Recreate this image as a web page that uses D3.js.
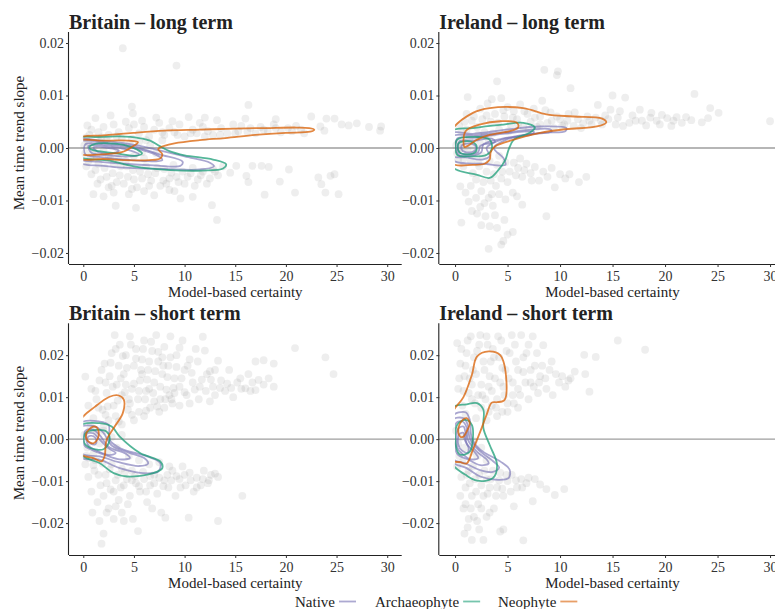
<!DOCTYPE html>
<html><head><meta charset="utf-8">
<script src="https://cdn.jsdelivr.net/npm/d3@7"></script>
<style>
html,body{margin:0;padding:0;background:#fff;}
svg{display:block;}
text{font-family:"Liberation Serif","DejaVu Serif",serif;}
</style></head>
<body>
<svg id="chart" width="775" height="609"></svg>
<script>
// ---------- data ----------
const groups = ["Native", "Archaeophyte", "Neophyte"];
const groupColors = ["#7570b3", "#1b9e77", "#d95f02"];
const xTicks = [0, 5, 10, 15, 20, 25, 30];
const yTicks = [-0.02, -0.01, 0.00, 0.01, 0.02];
const panelTitles = ["Britain – long term", "Ireland – long term", "Britain – short term", "Ireland – short term"];

// grey points [certainty, slope]
const britainLongPoints = [
[0.3,0.002],[0.8,0.0035],[1.2,0.0057],[1.5,0.003],[2.0,0.004],[2.5,0.0025],[3.0,0.0045],[3.5,0.003],[4.2,0.005],[4.5,0.0038],[5.0,0.0045],[5.5,0.0028],[6.0,0.004],[6.5,0.0022],[7.0,0.0035],[7.5,0.0048],[8.0,0.0025],[8.5,0.0038],[9.0,0.003],[9.5,0.0045],[10.0,0.0022],[10.4,0.0059],[10.8,0.0035],[11.2,0.0028],[11.8,0.004],[12.3,0.0032],[12.8,0.0025],[13.2,0.0053],[13.6,0.0038],[14.2,0.0028],[14.8,0.0045],[15.3,0.0032],[16.0,0.0056],[16.5,0.0038],[17.0,0.0028],[17.5,0.004],[18.2,0.0033],[18.8,0.0045],[19.5,0.003],[20.2,0.0038],[21.0,0.0042],[21.8,0.0028],[22.5,0.006],[23.4,0.0041],[23.8,0.0033],[24.0,0.0056],[24.8,0.0056],[25.5,0.0045],[26.2,0.0043],[27.0,0.0047],[28.2,0.004],[29.3,0.0033],[29.4,0.0041],
[0.1,0.0005],[0.2,-0.001],[0.5,0.001],[0.7,-0.002],[1.0,0.0],[1.3,-0.0015],[1.6,0.0012],[2.0,-0.0005],[2.3,0.0015],[2.7,-0.002],[3.1,0.0005],[3.4,-0.001],[3.8,0.0018],[4.2,-0.0025],[4.6,0.0008],[5.0,-0.0015],[5.5,0.0012],[6.0,-0.002],[6.6,0.0005],[7.2,-0.001],[7.8,0.0015],
[0.3,-0.0035],[0.8,-0.005],[1.2,-0.0042],[1.7,-0.006],[2.1,-0.0038],[2.5,-0.0075],[2.9,-0.0048],[3.3,-0.0065],[3.7,-0.0035],[4.0,-0.0068],[4.4,-0.0055],[4.9,-0.0042],[5.3,-0.0075],[5.8,-0.0058],[6.2,-0.0035],[6.7,-0.0062],[7.1,-0.0048],[7.6,-0.0072],[8.0,-0.004],[8.5,-0.0058],[8.9,-0.0032],[9.4,-0.0065],[9.8,-0.0045],[10.3,-0.0055],[10.8,-0.0038],[11.3,-0.006],[11.8,-0.0045],[12.2,-0.0068],[12.8,-0.004],[13.3,-0.0052],[13.8,-0.0035],[1.0,-0.0088],[2.0,-0.0092],[3.0,-0.0085],[4.5,-0.0088],[6.0,-0.0082],[7.0,-0.009],[8.5,-0.008],[3.2,-0.011],[5.2,-0.0114],[9.6,-0.0096],[10.8,-0.0093],[12.7,-0.0109],[13.2,-0.0137],
[14.5,-0.0047],[15.1,-0.0034],[16.1,-0.0053],[16.3,-0.0065],[16.7,-0.0034],[17.6,-0.0034],[17.9,-0.0089],[18.3,-0.0036],[19.4,-0.0064],[20.3,-0.0041],[20.9,-0.0085],[23.2,-0.0056],[23.5,-0.0069],[23.9,-0.0085],[24.4,-0.0053],[24.8,-0.005],[25.2,-0.0088],
[3.9,0.019],[9.2,0.0157],[4.8,0.0079],[16.3,0.0082],[4.9,0.0066],
[0.5,-0.0025],[1.5,-0.003],[2.3,-0.0055],[3.0,-0.003],[3.6,-0.0052],[4.3,-0.0035],[5.0,-0.006],[5.6,-0.0045],[6.4,-0.005],[7.3,-0.0038],[7.9,-0.0062],[8.7,-0.0047],[9.2,-0.0055],[10.0,-0.0068],[10.6,-0.0048],[11.0,-0.0072],[11.6,-0.0052],[12.5,-0.0058],[13.0,-0.0045],[1.4,-0.0068],[2.8,-0.0072],[4.8,-0.0078],[6.5,-0.0072],[8.2,-0.0068],[9.0,-0.0082],[0.6,0.0025],[1.8,0.002],[3.3,0.0022],[4.8,0.0018],[6.2,0.0015],[7.8,0.003],[9.3,0.0025],[10.6,0.0028],[12.0,0.0022],[13.5,0.0025],[15.0,0.0028],[16.2,0.0031],[17.8,0.0035],[19.0,0.0038],[20.6,0.0032],[21.5,0.0035],[0.4,0.0043],[5.8,0.0052],[8.8,0.0051],[2.7,0.0062],[7.2,0.0058],[12.0,0.0058],[19.0,0.0055],[15.6,0.0042],[11.5,0.0048],[0.9,-0.0012],[2.5,-0.0015],[4.0,0.0003],[5.8,-0.0008],[3.5,-0.0022]
];
const irelandLongPoints = [
[0.3,0.001],[0.6,0.003],[0.9,0.005],[1.2,0.0097],[1.4,0.002],[1.8,0.006],[2.1,0.004],[2.4,0.0075],[2.8,0.003],[3.1,0.0085],[3.4,0.005],[3.5,0.0093],[3.8,0.0065],[4.0,0.0127],[4.2,0.0035],[4.4,0.0095],[4.7,0.006],[5.0,0.0078],[5.3,0.0045],[5.6,0.007],[5.9,0.0055],[6.2,0.0083],[6.5,0.004],[6.9,0.0065],[7.2,0.005],[7.5,0.0075],[7.8,0.004],[8.1,0.006],[8.3,0.009],[8.5,0.0149],[8.8,0.0048],[9.1,0.0068],[9.4,0.0038],[9.7,0.0139],[9.8,0.0146],[10.0,0.0055],[10.4,0.0045],[10.8,0.0065],[11.0,0.0114],[11.3,0.0042],[11.7,0.0055],[12.2,0.0047],[12.6,0.006],[13.0,0.0045],[13.6,0.0082],[13.9,0.0052],[14.3,0.0062],[14.8,0.0073],[15.0,0.010],[15.3,0.0045],[15.7,0.007],[16.2,0.0096],[16.6,0.0048],[17.2,0.0052],[17.6,0.0073],[18.2,0.0043],[18.7,0.0067],[19.2,0.0052],[19.7,0.0063],[20.2,0.0057],[20.6,0.0042],[21.1,0.0059],[22.0,0.0059],[22.5,0.0053],[22.8,0.0103],[23.5,0.0049],[24.1,0.0057],[24.3,0.0076],[25.1,0.0067],[30.0,0.0051],
[0.2,-0.001],[0.5,0.0],[0.8,-0.002],[1.2,-0.0005],[1.5,-0.0025],[1.9,-0.001],[2.3,-0.0035],[2.6,-0.0015],[3.0,-0.0045],[3.3,-0.0025],[3.7,-0.005],[4.0,-0.0032],[4.4,-0.0058],[4.8,-0.0027],[5.2,-0.0045],[5.6,-0.0028],[6.0,-0.0038],[6.4,-0.0055],[6.8,-0.003],[7.2,-0.0048],[7.6,-0.0036],[8.0,-0.0062],[8.4,-0.0045],[8.8,-0.0055],[9.5,-0.0075],[9.2,-0.0038],[10.0,-0.005],[10.5,-0.0058],[10.9,-0.005],[11.8,-0.0065],[12.5,-0.0055],
[0.5,-0.0073],[1.0,-0.0085],[1.5,-0.0072],[2.0,-0.0095],[2.5,-0.0082],[2.8,-0.0105],[3.2,-0.0095],[3.6,-0.011],[4.2,-0.0088],[4.8,-0.0098],[5.5,-0.0085],[5.9,-0.0092],[6.4,-0.0108],[0.6,-0.0142],[1.6,-0.012],[2.1,-0.0125],[2.5,-0.0147],[2.9,-0.013],[3.3,-0.0149],[4.0,-0.0152],[4.7,-0.0137],[5.0,-0.0165],[5.5,-0.016],[4.6,-0.0177],[4.4,-0.0184],[3.2,-0.0192],[8.7,-0.013],[3.8,-0.0128],
[0.1,0.0005],[0.4,-0.0004],[0.7,0.0012],[1.0,0.0003],[1.3,0.0015],[1.6,0.0004],[2.0,0.0018],[2.4,0.0008],[2.8,0.0022],[3.2,0.0012],
[0.4,0.0042],[1.1,0.0035],[1.6,0.0052],[2.2,0.0025],[2.6,0.0055],[3.0,0.0062],[3.6,0.0028],[4.1,0.0048],[4.6,0.0072],[5.1,0.0032],[5.5,0.0058],[6.0,0.0045],[6.6,0.007],[7.0,0.0035],[7.6,0.0058],[8.1,0.0045],[8.6,0.0072],[9.2,0.0052],[9.7,0.006],[10.2,0.0042],[10.7,0.0052],[11.4,0.0068],[12.0,0.0038],[12.8,0.0052],[13.4,0.0058],[14.0,0.0045],[14.6,0.0055],[15.5,0.0058],[16.0,0.0042],[16.9,0.0062],[17.8,0.0052],[18.6,0.0058],[19.5,0.0045],[20.8,0.0052],[21.6,0.0048],[0.8,-0.0035],[1.7,-0.0048],[2.0,-0.006],[2.7,-0.0065],[3.4,-0.0062],[3.9,-0.0072],[4.5,-0.0045],[5.0,-0.0065],[5.8,-0.0052],[6.6,-0.0042],[7.3,-0.0062],[1.3,-0.0102],[2.4,-0.0112],[3.5,-0.0088],[2.2,-0.0028],[4.2,-0.0015],[6.2,-0.002],[0.3,-0.0022],[1.1,0.0065]
];
const britainShortPoints = [
[0.2,0.0149],[0.5,0.008],[0.8,0.012],[1.0,0.005],[1.3,0.0095],[1.6,0.014],[1.9,0.007],[2.1,0.018],[2.3,0.011],[2.6,0.015],[2.8,0.0205],[3.0,0.008],[3.1,0.0248],[3.3,0.013],[3.5,0.0175],[3.6,0.0225],[3.8,0.0105],[4.0,0.0155],[4.2,0.02],[4.4,0.007],[4.6,0.0245],[4.8,0.012],[5.0,0.0175],[5.2,0.0215],[5.4,0.0095],[5.6,0.014],[5.8,0.019],[6.0,0.0235],[6.2,0.0115],[6.4,0.0165],[6.6,0.0075],[6.8,0.021],[7.0,0.0135],[7.2,0.0248],[7.4,0.0185],[7.6,0.0095],[7.8,0.0155],[8.0,0.022],[8.2,0.0118],[8.4,0.0175],[8.6,0.0245],[8.8,0.0085],[9.0,0.0145],[9.2,0.02],[9.5,0.0125],[9.8,0.0235],[10.0,0.0165],[10.2,0.0105],[10.5,0.019],[10.8,0.0135],[11.1,0.0215],[11.4,0.0095],[11.8,0.0244],[12.0,0.0211],[12.2,0.0155],[12.5,0.0162],[12.8,0.0125],[13.0,0.0105],[13.3,0.0187],[13.6,0.014],[14.0,0.0115],[14.4,0.0165],[14.8,0.01],[15.2,0.0135],[15.6,0.012],[16.0,0.0121],[16.3,0.0155],[16.7,0.0135],[17.0,0.0185],[17.0,0.0117],[17.3,0.0141],[17.8,0.0188],[17.8,0.013],[18.3,0.0145],[18.8,0.018],[18.8,0.0125],[20.9,0.0217],[23.9,0.0195],[24.7,0.0155],
[3.2,0.0055],[4.5,0.0095],[5.5,0.0065],[6.5,0.012],[7.5,0.0065],[8.5,0.0105],[9.5,0.008],[10.5,0.0085],[2.5,0.0045],[3.8,0.0035],[5.0,0.0045],[6.0,0.0055],[7.0,0.009],[8.0,0.0075],[9.0,0.011],[11.5,0.0125],[12.5,0.009],[2.0,0.003],[4.2,0.013],[5.8,0.0155],[7.8,0.0195],
[0.2,-0.006],[0.5,-0.009],[0.8,-0.0125],[1.1,-0.0075],[1.4,-0.015],[1.7,-0.011],[1.8,-0.0249],[2.0,-0.0135],[2.2,-0.0085],[2.5,-0.0165],[2.7,-0.012],[3.0,-0.019],[3.2,-0.0098],[3.5,-0.0145],[3.8,-0.0175],[4.0,-0.011],[4.3,-0.0095],[4.6,-0.0135],[4.9,-0.019],[5.2,-0.0105],[5.4,-0.0219],[5.6,-0.0125],[6.0,-0.0095],[6.3,-0.015],[6.6,-0.011],[7.0,-0.0085],[7.3,-0.013],[7.7,-0.0175],[8.1,-0.0187],[8.0,-0.0098],[8.4,-0.0115],[8.8,-0.0075],[9.1,-0.0135],[9.5,-0.0095],[9.8,-0.0065],[10.1,-0.011],[10.4,-0.0187],[10.5,-0.008],[10.9,-0.0125],[11.2,-0.0092],[11.6,-0.011],[11.9,-0.0075],[12.3,-0.0105],[12.6,-0.0085],[13.0,-0.0082],[13.3,-0.009],[13.3,-0.0195],[15.7,-0.0135],
[0.1,0.001],[0.4,-0.002],[0.7,0.003],[1.0,-0.0035],[1.3,0.0015],[1.6,-0.001],[2.0,0.002],[2.4,-0.003],[2.8,0.0005],[3.3,-0.002],[3.8,0.001],[4.5,-0.004],[5.5,-0.005],[6.5,-0.006],[7.5,-0.0055],[8.5,-0.0065],[0.3,-0.004],[1.2,-0.005],[2.8,-0.006],[3.8,-0.007],[4.8,-0.0075],
[1.2,0.0115],[1.5,0.0075],[1.8,0.0165],[2.2,0.0135],[2.4,0.0078],[2.7,0.0182],[2.9,0.0125],[3.2,0.0215],[3.4,0.0092],[3.7,0.0145],[3.9,0.0198],[4.1,0.0112],[4.3,0.017],[4.6,0.0085],[4.7,0.0225],[5.0,0.0132],[5.2,0.0192],[5.5,0.0115],[5.7,0.0165],[5.9,0.0215],[6.1,0.0095],[6.3,0.0142],[6.5,0.0185],[6.7,0.0232],[6.9,0.011],[7.1,0.0162],[7.4,0.0208],[7.6,0.0125],[7.9,0.0175],[8.1,0.0095],[8.3,0.0148],[8.6,0.0195],[8.9,0.0122],[9.2,0.0172],[9.5,0.0218],[9.7,0.0145],[10.0,0.0112],[10.3,0.0175],[10.7,0.0158],[11.0,0.0118],[11.3,0.0185],[11.7,0.0142],[12.1,0.0115],[12.6,0.0142],[13.0,0.0165],[13.5,0.0122],[14.2,0.0132],[14.6,0.0122],[15.5,0.0145],[16.5,0.0115],[3.5,0.0042],[4.8,0.0058],[6.2,0.0068],[7.3,0.0078],[8.7,0.0095],[2.2,0.0058],[1.0,0.0025],
[0.6,-0.0045],[1.0,-0.0062],[1.5,-0.0085],[1.9,-0.0058],[2.3,-0.0105],[2.6,-0.0072],[3.0,-0.0125],[3.4,-0.0085],[3.7,-0.0115],[4.1,-0.0078],[4.4,-0.0155],[4.8,-0.0098],[5.1,-0.0088],[5.5,-0.0112],[5.9,-0.0078],[6.2,-0.0125],[6.6,-0.0088],[7.0,-0.0105],[7.5,-0.0092],[7.9,-0.0112],[8.3,-0.0085],[8.7,-0.0098],[9.2,-0.0088],[9.6,-0.0115],[10.0,-0.0085],[10.6,-0.0098],[11.2,-0.0115],[11.8,-0.0095],[12.4,-0.0098],[0.9,-0.0175],[1.6,-0.0195],[2.3,-0.0175],[3.2,-0.016],[2.0,-0.0225],[6.8,-0.0165],[4.0,-0.0195]
];
const irelandShortPoints = [
[0.2,0.0229],[0.3,0.012],[0.5,0.018],[0.7,0.008],[0.9,0.015],[1.1,0.0205],[1.3,0.011],[1.5,0.0245],[1.7,0.0165],[1.9,0.0085],[2.1,0.021],[2.4,0.0248],[2.5,0.013],[2.7,0.0185],[2.9,0.0095],[3.1,0.0225],[3.3,0.015],[3.5,0.0115],[3.7,0.0195],[3.9,0.0075],[4.1,0.0245],[4.3,0.0135],[4.5,0.017],[4.7,0.0105],[4.9,0.021],[5.1,0.0145],[5.4,0.0248],[5.6,0.0085],[5.8,0.0185],[6.0,0.012],[6.3,0.0248],[6.5,0.016],[6.8,0.0205],[7.0,0.0095],[7.2,0.0135],[7.4,0.0245],[7.6,0.0175],[7.9,0.011],[8.1,0.015],[8.4,0.0224],[8.7,0.012],[9.0,0.0165],[9.3,0.0105],[9.9,0.0135],[10.2,0.015],[10.8,0.014],[11.4,0.0161],[12.3,0.0201],[12.4,0.0155],[12.8,0.0113],[13.4,0.0196],[15.5,0.0235],[18.1,0.0213],[1.0,0.006],[2.0,0.005],[3.0,0.0045],[4.0,0.0055],[5.0,0.0065],[6.0,0.0075],[3.2,0.0065],[2.2,0.0105],[1.6,0.013],
[0.1,0.002],[0.3,-0.001],[0.6,0.0005],[0.9,-0.002],[1.2,0.001],[1.5,-0.003],[1.8,-0.0005],[2.1,-0.004],[2.5,-0.002],[3.0,-0.005],[0.2,-0.0065],[0.6,-0.009],[1.0,-0.0115],[1.3,-0.0075],[1.6,-0.0135],[1.9,-0.0095],[2.2,-0.0155],[2.5,-0.011],[2.8,-0.0075],[3.1,-0.013],[3.4,-0.0095],[3.7,-0.0165],[4.0,-0.0115],[4.3,-0.008],[4.6,-0.0135],[5.0,-0.01],[5.4,-0.0085],[5.6,-0.016],[5.9,-0.0115],[6.3,-0.0095],[6.8,-0.0105],[7.4,-0.0148],[7.6,-0.0095],[8.1,-0.0108],[8.7,-0.0119],[9.5,-0.0133],[10.4,-0.0119],[1.3,-0.019],[1.8,-0.0185],[2.1,-0.0195],[1.6,-0.024],[2.7,-0.024],[4.3,-0.022],[4.6,-0.0215],[6.5,-0.0241],[0.8,-0.0165],[3.3,-0.0175],
[0.4,0.0145],[0.6,0.0215],[0.8,0.0115],[1.0,0.0175],[1.2,0.0235],[1.4,0.0145],[1.6,0.0095],[1.8,0.0195],[2.0,0.0155],[2.3,0.0225],[2.6,0.0105],[2.8,0.0165],[3.0,0.0245],[3.2,0.0125],[3.4,0.0185],[3.6,0.0215],[3.8,0.0145],[4.0,0.0095],[4.2,0.0195],[4.4,0.0235],[4.6,0.0125],[4.8,0.0165],[5.0,0.0085],[5.2,0.0205],[5.5,0.0135],[5.7,0.0225],[6.0,0.0165],[6.2,0.0105],[6.5,0.0195],[6.7,0.0135],[7.0,0.0225],[7.2,0.0165],[7.5,0.0125],[7.8,0.0205],[8.0,0.0135],[8.3,0.0175],[8.6,0.0145],[9.2,0.0185],[9.6,0.0155],[10.5,0.0125],[11.0,0.0145],[4.5,0.0065],[5.5,0.0105],[3.5,0.008],[2.5,0.0075],
[0.4,-0.004],[0.7,-0.0055],[1.1,-0.0085],[1.4,-0.0105],[1.7,-0.0065],[2.0,-0.0125],[2.3,-0.0085],[2.7,-0.0135],[3.0,-0.0095],[3.3,-0.0115],[3.6,-0.0075],[3.9,-0.0135],[4.2,-0.0098],[4.5,-0.0118],[4.9,-0.0085],[5.3,-0.0125],[5.8,-0.0098],[6.4,-0.0115],[7.0,-0.0092],[0.5,-0.0135],[1.0,-0.0155],[1.5,-0.0165],[2.5,-0.0165],[3.0,-0.0185],[1.2,-0.021],[2.3,-0.0215],[0.9,-0.0225]
];

// density contour rings [certainty, slope], one array per group
const britainLongNative = [
 [[-0.5,0.0015],[2,0.0013],[4.5,0.0008],[7,-0.0002],[10,-0.0016],[12.5,-0.0028],[12.9,-0.0035],[11.5,-0.0041],[8,-0.004],[4.5,-0.0038],[2,-0.0034],[-0.5,-0.0026]],
 [[-0.5,0.0011],[2.5,0.0009],[5,0.0003],[7.5,-0.0012],[9.8,-0.0026],[9.6,-0.0034],[7,-0.0033],[4,-0.003],[1.5,-0.0026],[-0.5,-0.002]],
 [[0.2,0.0007],[2.5,0.0006],[5,0],[7.3,-0.0014],[7.8,-0.0023],[6,-0.0025],[3.5,-0.0021],[1.5,-0.0017],[0.2,-0.0012]],
 [[0.5,0.0004],[2.5,0.0003],[4.5,-0.0004],[5.5,-0.0012],[4.5,-0.0016],[2.5,-0.0014],[0.8,-0.0009]],
 [[1,0.0001],[2.5,0],[3.5,-0.0005],[3,-0.001],[1.5,-0.0008]]
];
const britainLongArchaeo = [
 [[-0.5,0.0018],[1.5,0.0021],[3.6,0.0022],[5.5,0.0019],[6.6,0.0014],[7.5,0.0004],[8.5,-0.0006],[10,-0.0014],[12.8,-0.0022],[14.1,-0.0031],[13.8,-0.0039],[11.8,-0.0043],[8.6,-0.0042],[5.3,-0.0036],[2.6,-0.0024],[-0.5,-0.0015]],
 [[0.6,0.0002],[1.2,0.0008],[2.5,0.0009],[4,0.0006],[5.3,-0.0003],[5.8,-0.001],[5.2,-0.0015],[3.6,-0.0011],[1.5,-0.0006],[0.7,-0.0002]]
];
const britainLongNeo = [
 [[-0.5,0.0018],[2,0.0024],[5,0.0029],[8,0.0033],[11.5,0.0035],[15,0.0037],[18,0.0038],[21,0.0039],[22.3,0.0038],[22.8,0.0035],[22.4,0.0031],[20,0.0029],[17,0.0025],[14,0.0019],[11.5,0.0015],[9,0.0009],[8,0.0004],[7.4,-0.0002],[7.8,-0.0012],[7.6,-0.002],[6.5,-0.0023],[4,-0.0023],[2,-0.0021],[-0.5,-0.0019]],
 [[-0.5,0.0013],[2,0.0014],[4.5,0.0014],[5.4,0.0011],[4.8,0.0002],[3.8,-0.0008],[2.5,-0.0011],[-0.5,-0.001]]
];
const irelandLongNative = [
 [[-0.3,0.0028],[1.7,0.0027],[4.9,0.0035],[8.1,0.0041],[10.6,0.0038],[10.5,0.0032],[8.1,0.0029],[4.9,0.0016],[3.7,0.0],[4.6,-0.0019],[4.8,-0.0032],[2.7,-0.003],[-0.3,-0.0022]],
 [[-0.3,0.0022],[2,0.0024],[5,0.003],[9.0,0.0036],[9.2,0.0031],[6.5,0.0025],[4,0.0013],[3.0,0.0],[3.3,-0.0015],[2.6,-0.0022],[1,-0.0018],[-0.3,-0.0015]],
 [[0.2,0.0018],[2,0.002],[4.5,0.0027],[7.5,0.0031],[7.3,0.0026],[4.5,0.0018],[2.7,0.0007],[2.5,-0.0008],[1.5,-0.0015],[0.3,-0.0012]],
 [[0.4,0.0012],[1.8,0.0014],[3.5,0.0018],[3.8,0.0012],[2.4,0.0004],[2.2,-0.0008],[1.2,-0.0012],[0.4,-0.0008]],
 [[0.7,0.0006],[1.6,0.0008],[2.0,0.0002],[1.8,-0.0006],[1.0,-0.0008],[0.6,-0.0002]]
];
const irelandLongArchaeo = [
 [[-0.3,0.0032],[1.7,0.0038],[4.3,0.0044],[6.5,0.0048],[7.6,0.0039],[7.1,0.0029],[5.6,0.0016],[5.1,-0.0003],[4.8,-0.0022],[4.0,-0.0045],[3.3,-0.0057],[2.1,-0.0051],[-0.3,-0.0035]],
 [[0.2,0.0016],[2.1,0.0021],[3.3,0.0016],[3.5,-0.0002],[3.0,-0.0013],[1.4,-0.0016],[0.2,-0.0013]],
 [[0.3,0.0008],[1.2,0.0013],[2.0,0.0006],[2.0,-0.0006],[1.2,-0.0012],[0.4,-0.0008]]
];
const irelandLongNeo = [
 [[-0.3,0.0033],[1.7,0.0067],[3.3,0.0076],[6.5,0.0076],[8.7,0.0064],[11.3,0.006],[14.0,0.0056],[14.4,0.0049],[13.5,0.0041],[10.6,0.0036],[8.1,0.0029],[5.6,0.0016],[3.8,0.0003],[3.4,-0.0008],[3.3,-0.0022],[2.8,-0.003],[1.7,-0.0032],[-0.3,-0.0029]],
 [[0.9,0.0002],[1.0,0.0032],[2.4,0.0045],[4.3,0.0051],[5.9,0.0048],[6.0,0.0039],[5.2,0.0032],[3.3,0.0025],[2.1,0.0016],[1.2,0.0004]]
];
const britainShortNative = [
 [[-0.3,0.0038],[1.6,0.0042],[2.5,0.0034],[2.6,-0.0002],[3.6,-0.0021],[6.3,-0.0041],[7.6,-0.0057],[7.4,-0.0077],[5.9,-0.0081],[3.6,-0.0069],[1.6,-0.0049],[-0.3,-0.0043]],
 [[-0.3,0.0028],[1.2,0.003],[2.0,0.0015],[2.8,-0.0015],[4.5,-0.0032],[6.0,-0.0045],[6.4,-0.0058],[5.5,-0.0064],[3.5,-0.0055],[1.8,-0.0042],[-0.3,-0.0032]],
 [[0.2,0.002],[1.0,0.0022],[1.6,0.001],[2.5,-0.0018],[4.2,-0.0035],[4.6,-0.0045],[3.6,-0.0048],[2.2,-0.0038],[0.8,-0.0025],[0.1,-0.0015]],
 [[0.3,0.0012],[1.0,0.0014],[1.5,0.0002],[2.5,-0.0022],[3.2,-0.0033],[2.6,-0.0038],[1.4,-0.0028],[0.5,-0.0015]],
 [[0.5,0.0006],[1.0,0.0007],[1.3,-0.0003],[1.2,-0.0012],[0.7,-0.001],[0.4,-0.0002]]
];
const britainShortArchaeo = [
 [[-0.3,0.0032],[1.6,0.0038],[2.8,0.003],[3.6,0.0006],[5.6,-0.0033],[7.6,-0.0053],[7.8,-0.0069],[6.9,-0.0081],[4.3,-0.0089],[3.0,-0.0081],[1.6,-0.0057],[-0.3,-0.0035]],
 [[0.2,0.0014],[1.3,0.0022],[2.3,0.0018],[2.6,-0.0002],[2.0,-0.0024],[0.7,-0.0021],[0.1,-0.0009]]
];
const britainShortNeo = [
 [[-0.3,0.0044],[1.2,0.0078],[2.6,0.0101],[3.5,0.0104],[4.0,0.0094],[3.9,0.0062],[3.1,0.003],[2.3,-0.0002],[2.1,-0.0041],[1.8,-0.0053],[1.0,-0.0045],[-0.3,-0.0035]],
 [[0.3,0.0014],[1.0,0.003],[1.4,0.0026],[1.5,0.0006],[1.0,-0.001],[0.4,-0.0003]]
];
const irelandShortNative = [
 [[-0.3,0.0054],[1.0,0.0064],[1.4,0.0046],[1.6,0.0002],[2.4,-0.0025],[4.3,-0.0053],[5.2,-0.0073],[5.1,-0.0093],[4.1,-0.0097],[2.4,-0.0089],[1.1,-0.0069],[-0.3,-0.0053]],
 [[-0.3,0.0045],[0.8,0.005],[1.2,0.0035],[1.4,0.0002],[2.2,-0.0025],[3.6,-0.0052],[4.2,-0.0068],[3.6,-0.0078],[2.3,-0.0073],[1.0,-0.0058],[-0.3,-0.0045]],
 [[0.1,0.0038],[0.7,0.0042],[1.1,0.0028],[1.2,0.0],[2.0,-0.0028],[3.0,-0.0048],[3.2,-0.0058],[2.4,-0.0062],[1.2,-0.0048],[0.2,-0.0035]],
 [[0.3,0.0025],[0.8,0.003],[1.0,0.0015],[1.1,-0.001],[1.9,-0.0032],[2.2,-0.0045],[1.5,-0.0048],[0.7,-0.0035],[0.2,-0.002]],
 [[0.4,0.0012],[0.8,0.0015],[0.9,0.0],[1.3,-0.0022],[1.2,-0.0032],[0.7,-0.0028],[0.3,-0.0012]]
];
const irelandShortArchaeo = [
 [[-0.3,0.0074],[1.1,0.0083],[2.1,0.0086],[2.7,0.007],[2.7,0.0026],[3.3,-0.0014],[4.0,-0.0061],[3.6,-0.0093],[2.1,-0.0099],[1.0,-0.0085],[-0.3,-0.0057]],
 [[0.2,0.0034],[1.0,0.0046],[1.6,0.0034],[1.7,0.0002],[1.4,-0.003],[0.5,-0.0037],[0.1,-0.0019]]
];
const irelandShortNeo = [
 [[-0.3,0.006],[0.8,0.01],[1.6,0.0153],[2.1,0.0197],[3.2,0.0209],[4.3,0.02],[4.9,0.0135],[4.7,0.0093],[4.0,0.0088],[3.5,0.0087],[3.0,0.0058],[2.4,0.0018],[1.7,-0.0025],[1.1,-0.0058],[0.5,-0.0055],[-0.3,-0.005]],
 [[0.3,0.0018],[0.6,0.0042],[1.1,0.005],[1.4,0.0038],[1.1,0.0018],[0.8,0.0006],[0.5,0.0006]]
];

// ---------- layout ----------
const svg = d3.select("#chart");
const panels = [
  {title: panelTitles[0], x0: 69, x1: 401.7, xDom: [-1.41, 31.43], top: 32, bottom: 264, yDom: [-0.0221, 0.0221],
   yTitle: true, yTitleY: 143, points: britainLongPoints, contours: [britainLongNative, britainLongArchaeo, britainLongNeo]},
  {title: panelTitles[1], x0: 439.3, x1: 785.8, xDom: [-1.5, 31.5], top: 32, bottom: 264, yDom: [-0.0221, 0.0221],
   yTitle: false, points: irelandLongPoints, contours: [irelandLongNative, irelandLongArchaeo, irelandLongNeo]},
  {title: panelTitles[2], x0: 69, x1: 401.7, xDom: [-1.41, 31.43], top: 323.3, bottom: 555, yDom: [-0.0276, 0.0276],
   yTitle: true, yTitleY: 433, points: britainShortPoints, contours: [britainShortNative, britainShortArchaeo, britainShortNeo]},
  {title: panelTitles[3], x0: 439.3, x1: 785.8, xDom: [-1.5, 31.5], top: 323.3, bottom: 555, yDom: [-0.0276, 0.0276],
   yTitle: false, points: irelandShortPoints, contours: [irelandShortNative, irelandShortArchaeo, irelandShortNeo]}
];

const defs = svg.append("defs");
const fmtY = d3.format(".2f");

panels.forEach((p, i) => {
  const xs = d3.scaleLinear().domain(p.xDom).range([p.x0, p.x1]);
  const ys = d3.scaleLinear().domain(p.yDom).range([p.bottom, p.top]);
  const g = svg.append("g");

  defs.append("clipPath").attr("id", "clipP" + i).append("rect")
    .attr("x", p.x0).attr("y", p.top).attr("width", p.x1 - p.x0).attr("height", p.bottom - p.top);
  defs.append("clipPath").attr("id", "clipC" + i).append("rect")
    .attr("x", xs(0)).attr("y", p.top).attr("width", p.x1 - xs(0)).attr("height", p.bottom - p.top);

  // zero line
  g.append("line").attr("x1", p.x0).attr("x2", p.x1).attr("y1", ys(0)).attr("y2", ys(0))
    .attr("stroke", "#9e9e9e").attr("stroke-width", 1.3);

  // points
  g.append("g").attr("clip-path", `url(#clipP${i})`).selectAll("circle").data(p.points).join("circle")
    .attr("cx", d => xs(d[0])).attr("cy", d => ys(d[1])).attr("r", 3.9)
    .attr("fill", "#8a8a8a").attr("fill-opacity", 0.14);

  // contours
  const line = d3.line().x(d => xs(d[0])).y(d => ys(d[1])).curve(d3.curveCatmullRomClosed.alpha(0.5));
  const cg = g.append("g").attr("clip-path", `url(#clipC${i})`);
  p.contours.forEach((rings, gi) => {
    cg.append("g").selectAll("path").data(rings).join("path")
      .attr("d", line).attr("fill", "none")
      .attr("stroke", groupColors[gi]).attr("stroke-opacity", gi === 0 ? 0.62 : 0.75)
      .attr("stroke-width", 1.8).attr("stroke-linejoin", "round");
  });

  // axes
  const xAxis = g.append("g").attr("transform", `translate(0,${p.bottom})`)
    .call(d3.axisBottom(xs).tickValues(xTicks).tickSize(3).tickPadding(4).tickSizeOuter(0));
  const yAxis = g.append("g").attr("transform", `translate(${p.x0},0)`)
    .call(d3.axisLeft(ys).tickValues(yTicks).tickFormat(fmtY).tickSize(3).tickPadding(2).tickSizeOuter(0));
  [xAxis, yAxis].forEach(a => {
    a.select(".domain").attr("stroke", "#222").attr("stroke-width", 1.1);
    a.selectAll(".tick line").attr("stroke", "#333");
    a.selectAll(".tick text").attr("font-family", "Liberation Serif, serif").attr("font-size", 14).attr("fill", "#333");
  });
  xAxis.select(".domain").attr("d", `M${p.x0},0.5H${p.x1}`);
  yAxis.select(".domain").attr("d", `M-0.5,${p.top}V${p.bottom}`);

  // titles
  g.append("text").attr("x", p.x0).attr("y", p.top - 3.5).text(p.title)
    .attr("font-size", 20).attr("font-weight", "bold").attr("fill", "#222");
  g.append("text").attr("x", (p.x0 + p.x1) / 2).attr("y", p.bottom + 33)
    .attr("text-anchor", "middle").attr("font-size", 15).attr("fill", "#222").text("Model-based certainty");
  if (p.yTitle) {
    g.append("text").attr("transform", `translate(24,${p.yTitleY}) rotate(-90)`)
      .attr("text-anchor", "middle").attr("font-size", 15).attr("fill", "#222").text("Mean time trend slope");
  }
});

// legend
const legendX = [295, 375, 498];
const lg = svg.append("g");
groups.forEach((name, i) => {
  const t = lg.append("text").attr("x", legendX[i]).attr("y", 607).attr("font-size", 15).attr("fill", "#222").text(name);
  const w = t.node().getComputedTextLength();
  lg.append("line").attr("x1", legendX[i] + w + 4).attr("x2", legendX[i] + w + 21)
    .attr("y1", 601.5).attr("y2", 601.5).attr("stroke", groupColors[i]).attr("stroke-opacity", 0.6).attr("stroke-width", 1.8);
});
</script>
</body></html>
